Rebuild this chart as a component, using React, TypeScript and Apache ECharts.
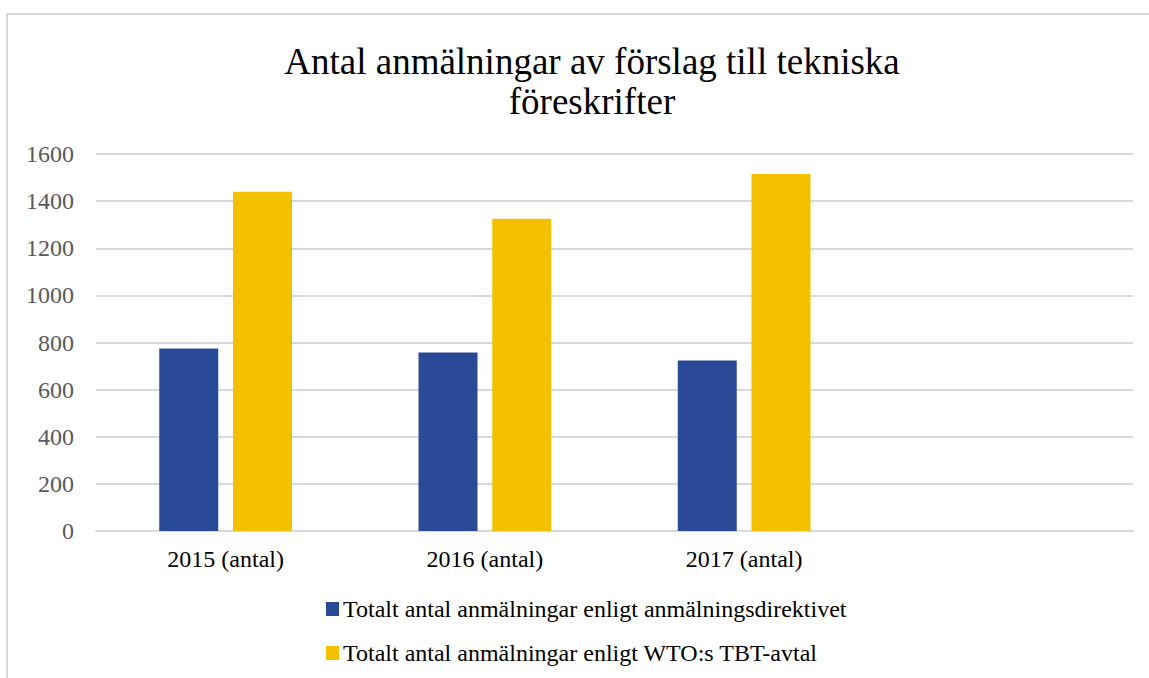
import React, { useEffect, useRef } from "react";
import * as echarts from "echarts";

const categories = ["2015 (antal)", "2016 (antal)", "2017 (antal)", ""];
const seriesNames = [
  "Totalt antal anmälningar enligt anmälningsdirektivet",
  "Totalt antal anmälningar enligt WTO:s TBT-avtal",
];
const directiveValues = [775, 758, 724, null];
const wtoValues = [1440, 1325, 1515, null];
const titleText = "Antal anmälningar av förslag till tekniska\nföreskrifter";

const FONT = "'Liberation Serif', 'Times New Roman', serif";

export default function App() {
  const ref = useRef<HTMLDivElement>(null);
  useEffect(() => {
    if (!ref.current) return;
    const chart = echarts.init(ref.current, null, { renderer: "svg" });
    chart.setOption({
      animation: false,
      backgroundColor: "#ffffff",
      graphic: [
        {
          type: "rect",
          z: -10,
          silent: true,
          shape: { x: 7, y: 14, width: 1200, height: 700 },
          style: { fill: "none", stroke: "#d9d9d9", lineWidth: 2 },
        },
      ],
      title: {
        text: titleText,
        left: 587,
        textAlign: "center",
        top: 36,
        textStyle: {
          fontFamily: FONT,
          fontSize: 37,
          fontWeight: "normal",
          color: "#000000",
          lineHeight: 40,
        },
      },
      grid: { left: 96, right: 16, top: 154, bottom: 147, containLabel: false },
      legend: {
        orient: "vertical",
        left: 321,
        top: 592,
        itemWidth: 13,
        itemHeight: 14,
        itemGap: 20,
        icon: "rect",
        textStyle: { fontFamily: FONT, fontSize: 24, color: "#000000", padding: [0, 0, 0, -1] },
        data: seriesNames,
      },
      xAxis: {
        type: "category",
        data: categories,
        axisLine: { lineStyle: { color: "#d9d9d9", width: 2 } },
        axisTick: { show: false },
        axisLabel: { fontFamily: FONT, fontSize: 24, color: "#000000", margin: 16 },
      },
      yAxis: {
        type: "value",
        min: 0,
        max: 1600,
        interval: 200,
        axisLine: { show: false },
        axisTick: { show: false },
        splitLine: { lineStyle: { color: "#d9d9d9", width: 2 } },
        axisLabel: {
          fontFamily: FONT,
          fontSize: 24,
          color: "#595959",
          margin: 22,
          formatter: (v: number) => String(v),
        },
      },
      series: [
        {
          name: seriesNames[0],
          type: "bar",
          data: directiveValues,
          barWidth: 59,
          barGap: "25%",
          itemStyle: { color: "#2a4a98" },
        },
        {
          name: seriesNames[1],
          type: "bar",
          data: wtoValues,
          barWidth: 59,
          barGap: "25%",
          itemStyle: { color: "#f4c100" },
        },
      ],
    });
    return () => chart.dispose();
  }, []);
  return (
    <div
      ref={ref}
      style={{ position: "absolute", left: 0, top: 0, width: 1149, height: 678 }}
    />
  );
}
